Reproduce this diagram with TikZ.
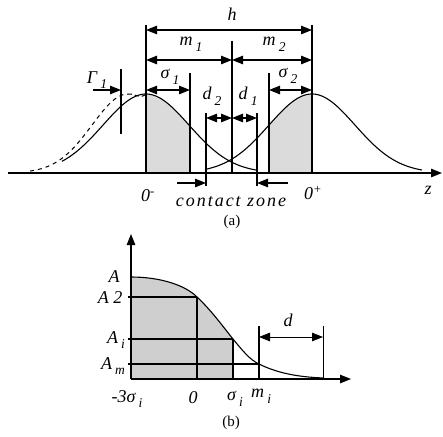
\documentclass[tikz,border=0pt]{standalone}
\usepackage{fontspec}
\setmainfont{Liberation Serif}
\usetikzlibrary{arrows.meta}
\newcommand{\lb}[2]{\textit{#1}\kern0.18em\raisebox{-0.32em}{\fontsize{13.5}{14}\selectfont\itshape #2}}
\begin{document}
\begin{tikzpicture}[x=1pt,y=-1pt, line width=1.1pt,
  lbl/.style={font=\fontsize{18}{20}\selectfont\itshape, inner sep=0pt},
  captxt/.style={font=\fontsize{15}{17}\selectfont, inner sep=0pt},
  tipA/.tip={Triangle[length=11pt,width=8.5pt]},
  dimarrow/.style={tipA-tipA},
  onearrow/.style={-tipA},
  shadea/.style={fill=gray!28},
  shadeb/.style={fill=gray!38},
]
\fill[white] (0,0) rectangle (443,436);
\path[use as bounding box] (0,0) rectangle (443,436);

% ---------- (a) ----------
% shaded regions
\fill[shadea] (146,173) -- plot[domain=146:190,samples=30] (\x,{173-79*exp(-((\x-146)/43)^2/2)}) -- (190,173) -- cycle;
\fill[shadea] (269,173) -- plot[domain=269:312,samples=30] (\x,{173-79*exp(-((\x-312)/43)^2/2)}) -- (312,173) -- cycle;

% axis
\coordinate (zL) at (8,173);
\coordinate (zR) at (442,173);
\draw[onearrow] (zL) -- (zR);

% curves
\draw plot[domain=62:258,samples=120] (\x,{173-79*exp(-((\x-146)/43)^2/2)});
\draw plot[domain=205:422,samples=120] (\x,{173-79*exp(-((\x-312)/43)^2/2)});
\draw[dash pattern=on 4pt off 4pt, line width=1pt] plot[domain=30:128,samples=80] (\x,{173-79*exp(-((\x-128)/36)^2/2)});
\draw[dash pattern=on 4pt off 3pt, line width=1pt] (128,94) .. controls (134,93) and (138,99) .. (145,95);

% vertical lines
\coordinate (v0t) at (146,25);  \coordinate (v0b) at (146,173);
\coordinate (vs1t) at (190,73); \coordinate (vs1b) at (190,173);
\coordinate (vct) at (232,41);  \coordinate (vcb) at (232,173);
\coordinate (vs2t) at (269,73); \coordinate (vs2b) at (269,173);
\coordinate (v1t) at (312,25);  \coordinate (v1b) at (312,173);
\coordinate (cLt) at (206,113); \coordinate (cLb) at (206,186);
\coordinate (cRt) at (257,113); \coordinate (cRb) at (257,186);
\coordinate (gt) at (121,69);   \coordinate (gb) at (121,134);
\foreach \a/\b in {v0t/v0b,vs1t/vs1b,vct/vcb,vs2t/vs2b,v1t/v1b,cLt/cLb,cRt/cRb,gt/gb}
  \draw (\a) -- (\b);

% dimension arrows
\coordinate (h1) at (146,30); \coordinate (h2) at (312,30);
\coordinate (m1a) at (146,60); \coordinate (m1b) at (232,60); \coordinate (m2b) at (312,60);
\coordinate (s1a) at (146,90); \coordinate (s1b) at (190,90);
\coordinate (s2a) at (269,90); \coordinate (s2b) at (312,90);
\coordinate (d2a) at (206,118); \coordinate (d2b) at (232,118); \coordinate (d1b) at (257,118);
\draw[dimarrow] (h1) -- (h2);
\draw[dimarrow] (m1a) -- (m1b);
\draw[dimarrow] (m1b) -- (m2b);
\draw[dimarrow] (s1a) -- (s1b);
\draw[dimarrow] (s2a) -- (s2b);
\draw[dimarrow] (d2a) -- (d2b);
\draw[dimarrow] (d2b) -- (d1b);
\coordinate (gs) at (93,90); \coordinate (ge) at (121,90);
\draw[onearrow] (gs) -- (ge);
\coordinate (czl) at (177,183); \coordinate (czle) at (206,183);
\coordinate (czr) at (288,183); \coordinate (czre) at (257,183);
\draw[onearrow] (czl) -- (czle);
\draw[onearrow] (czr) -- (czre);

% labels (a)
\node[lbl] (lh) at (232,14) {h};
\node[lbl] (lm1) at (191,44) {\lb{m}{1}};
\node[lbl] (lm2) at (274,44) {\lb{m}{2}};
\node[lbl] (ls1) at (170,77) {\lb{σ}{1}};
\node[lbl] (ls2) at (288,76) {\lb{σ}{2}};
\node[lbl] (ld2) at (212,96) {\lb{d}{2}};
\node[lbl] (ld1) at (248,96) {\lb{d}{1}};
\node[lbl] (lg) at (97,80) {\lb{Γ}{1}};
\node[lbl] (l0m) at (148,196) {0\textsuperscript{-}};
\node[lbl] (lcz) at (231,202) {\addfontfeature{LetterSpace=11}contact zone};
\node[lbl] (l0p) at (313,193) {0\textsuperscript{+}};
\node[lbl] (lz) at (428,190) {z};
\node[captxt] (la) at (232,222) {(a)};

% ---------- (b) ----------
\fill[shadeb] (131,379) -- (131,277) .. controls (160,277) and (185,285) .. (197,297)
  .. controls (212,311) and (224,328) .. (233,339) -- (233,379) -- cycle;
\coordinate (O) at (131,379);
\coordinate (ytip) at (131,234);
\coordinate (xtip) at (351,379);
\draw[onearrow] (O) -- (ytip);
\draw[onearrow] (O) -- (xtip);
\draw (131,277) .. controls (160,277) and (185,285) .. (197,297)
  .. controls (212,311) and (224,328) .. (233,339)
  .. controls (242,350) and (250,360) .. (259,364)
  .. controls (275,372) and (295,377) .. (324,378);
% grid lines
\coordinate (a2l) at (128,297); \coordinate (a2r) at (197,297);
\coordinate (ail) at (128,339); \coordinate (air) at (233,339);
\coordinate (aml) at (128,364); \coordinate (amr) at (259,364);
\draw (a2l) -- (a2r); \draw (ail) -- (air); \draw (aml) -- (amr);
\coordinate (b0t) at (197,297); \coordinate (b0b) at (197,379);
\coordinate (bst) at (233,339); \coordinate (bsb) at (233,379);
\coordinate (bmt) at (259,326); \coordinate (bmb) at (259,379);
\coordinate (bdt) at (323,326); \coordinate (bdb) at (323,379);
\draw (b0t) -- (b0b); \draw (bst) -- (bsb); \draw (bmt) -- (bmb);
\draw[line width=0.8pt] (bdt) -- (bdb);
\coordinate (da) at (259,337); \coordinate (db) at (323,337);
\draw[dimarrow, line width=0.8pt] (da) -- (db);

% labels (b)
\node[lbl] (lA) at (114,277) {A};
\node[lbl] (lA2) at (110,298) {A 2};
\node[lbl] (lAi) at (116,340) {\lb{A}{i}};
\node[lbl] (lAm) at (113,366) {\lb{A}{m}};
\node[lbl] (lm3) at (127,399) {-3\lb{σ}{i}};
\node[lbl] (l0) at (193,398) {0};
\node[lbl] (lsi) at (235,399) {\lb{σ}{i}};
\node[lbl] (lmi) at (261,396) {\lb{m}{i}};
\node[lbl] (ld) at (288,320) {d};
\node[captxt] (lb) at (231,423) {(b)};
\end{tikzpicture}
\end{document}
